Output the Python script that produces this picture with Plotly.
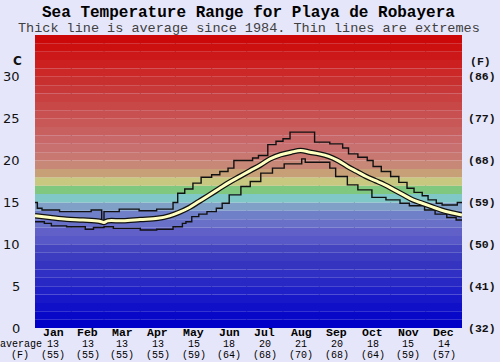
import plotly.graph_objects as go

# ---------------- data ----------------
months = ["Jan", "Feb", "Mar", "Apr", "May", "Jun", "Jul", "Aug", "Sep", "Oct", "Nov", "Dec"]
month_avg_c = ["13", "13", "13", "13", "15", "18", "20", "21", "20", "18", "15", "14"]
month_avg_f = ["(55)", "(55)", "(55)", "(55)", "(59)", "(64)", "(68)", "(70)", "(68)", "(64)", "(59)", "(57)"]
month_days = [31, 28, 31, 30, 31, 30, 31, 31, 30, 31, 30, 31]

c_ticks = [0, 5, 10, 15, 20, 25, 30]
f_ticks = ["(32)", "(41)", "(50)", "(59)", "(68)", "(77)", "(86)"]

# average (day of year, deg C)
avg_day = [0, 13, 27, 41, 55, 59, 62, 75, 90, 105, 115, 123, 132, 140, 148, 157, 166, 175, 184,
           193, 201, 210, 219, 227, 235, 243, 251, 259, 267, 275, 283, 291, 299, 307, 315, 323,
           331, 339, 347, 355, 365]
avg_val = [13.4, 13.2, 13.0, 12.9, 12.75, 12.6, 12.8, 12.8, 12.95, 13.1, 13.4, 13.8, 14.4, 15.1,
           15.8, 16.6, 17.4, 18.1, 18.8, 19.5, 20.2, 20.7, 21.0, 21.2, 21.0, 20.8, 20.5, 20.0,
           19.3, 18.7, 18.1, 17.6, 17.1, 16.5, 15.9, 15.3, 14.9, 14.5, 14.1, 13.8, 13.5]

# maximum (step line)
max_day = [0, 2, 6, 21, 48, 57, 59, 72, 89, 104, 118, 122, 128, 135, 142, 151, 158, 165, 170,
           186, 191, 199, 206, 212, 218, 239, 245, 252, 263, 268, 276, 284, 289, 296, 304, 311,
           318, 324, 331, 336, 343, 348, 361, 365]
max_val = [15.0, 14.3, 14.1, 13.9, 14.1, 12.7, 13.9, 14.2, 14.0, 14.2, 15.0, 16.1, 16.6, 17.3,
           18.0, 18.3, 18.7, 19.1, 20.0, 20.3, 20.6, 21.9, 22.3, 22.6, 23.4, 22.2, 22.2, 22.0,
           21.5, 20.8, 20.4, 20.0, 19.3, 18.7, 18.1, 17.4, 16.7, 16.2, 15.8, 15.3, 14.9, 14.7,
           15.0, 15.0]

# minimum (step line)
min_day = [0, 8, 14, 27, 43, 50, 59, 67, 90, 104, 118, 126, 129, 134, 140, 147, 155, 160, 166,
           176, 184, 193, 203, 213, 228, 231, 252, 257, 267, 276, 288, 300, 312, 320, 333, 342,
           352, 360, 365]
min_val = [12.7, 12.5, 12.2, 12.1, 11.8, 12.0, 12.1, 11.9, 11.7, 11.8, 12.1, 12.5, 12.7, 13.3,
           13.6, 13.9, 14.3, 14.9, 15.9, 16.9, 17.5, 18.5, 19.1, 19.6, 20.2, 19.8, 19.1, 18.1,
           17.1, 16.5, 15.6, 15.3, 14.9, 14.6, 14.1, 13.6, 13.2, 12.9, 12.9]

# ---------------- style ----------------
band_colors = [
    "#0000c8", "#0808c8", "#1010c8", "#1818c8", "#2020c8", "#2828c4", "#3030c4", "#3434c0",
    "#3c3cc0", "#4444c0", "#5858c8", "#6060c8", "#6870c8", "#7080c8", "#80a0c8", "#80c8c8",
    "#80c880", "#c8c880", "#c8a078", "#c88878", "#c87870", "#c87070", "#c86868", "#c86060",
    "#c85858", "#c85050", "#c84848", "#c84040", "#c83838", "#c83030", "#cc2828", "#cc2020",
    "#cc1818", "#cc1010", "#cc0808", "#cc0000",
]
MONO = "Liberation Mono"
BG = "#e6e6fa"

fig = go.Figure()

# thin extremes
fig.add_trace(go.Scatter(x=max_day, y=max_val, mode="lines", line=dict(color="#111111", width=1.4, shape="hv"),
                         hoverinfo="skip", showlegend=False))
fig.add_trace(go.Scatter(x=min_day, y=min_val, mode="lines", line=dict(color="#111111", width=1.4, shape="hv"),
                         hoverinfo="skip", showlegend=False))
# thick average: black outline + pale yellow core
fig.add_trace(go.Scatter(x=avg_day, y=avg_val, mode="lines", line=dict(color="#111111", width=5.5, shape="spline"),
                         hoverinfo="skip", showlegend=False))
fig.add_trace(go.Scatter(x=avg_day, y=avg_val, mode="lines", line=dict(color="#ffffc0", width=3, shape="spline"),
                         hoverinfo="skip", showlegend=False))

shapes = []
for i, col in enumerate(band_colors):
    shapes.append(dict(type="rect", xref="x", yref="y", x0=0, x1=365, y0=i, y1=i + 1,
                       fillcolor=col, line=dict(width=0), layer="below"))
# white horizontal lines
for v in c_ticks[1:]:
    shapes.append(dict(type="line", xref="paper", yref="y", x0=0, x1=1, y0=v, y1=v,
                       line=dict(color="#f4f4f4", width=2), layer="below"))
# month boundaries
edges = []
acc = 0
for d in month_days[:-1]:
    acc += d
    edges.append(acc)
for e in edges:
    shapes.append(dict(type="line", xref="x", yref="paper", x0=e, x1=e, y0=0, y1=1,
                       line=dict(color="#707070", width=1), layer="below"))

annotations = []
annotations.append(dict(text="<b>Sea Temperature Range for Playa de Robayera</b>", xref="paper", yref="paper",
                        x=0.5, y=1.075, xanchor="center", yanchor="middle", showarrow=False,
                        font=dict(family=MONO, size=16, color="#000000")))
annotations.append(dict(text="Thick line is average since 1984. Thin lines are extremes", xref="paper",
                        yref="paper", x=0.5, y=1.021, xanchor="center", yanchor="middle", showarrow=False,
                        font=dict(family=MONO, size=13.5, color="#404040")))
# left C labels
for v in c_ticks:
    annotations.append(dict(text=str(v), xref="paper", yref="y", x=-0.031, y=v, xanchor="right",
                            yanchor="middle", showarrow=False,
                            font=dict(family="DejaVu Sans", size=13, color="#111111")))
annotations.append(dict(text="<b>C</b>", xref="paper", yref="paper", x=-0.04, y=0.911, xanchor="center",
                        yanchor="middle", showarrow=False, font=dict(family="DejaVu Sans", size=12, color="#111111")))
# right F labels
for v, t in zip(c_ticks, f_ticks):
    annotations.append(dict(text="<b>" + t + "</b>", xref="paper", yref="y", x=1.009, y=v, xanchor="left",
                            yanchor="middle", showarrow=False, font=dict(family=MONO, size=11.5, color="#111111")))
annotations.append(dict(text="<b>(F)</b>", xref="paper", yref="paper", x=1.044, y=0.908, xanchor="center",
                        yanchor="middle", showarrow=False, font=dict(family=MONO, size=11.5, color="#111111")))
# bottom month labels
start = 0
for m, d, c, f in zip(months, month_days, month_avg_c, month_avg_f):
    mid = start + d / 2
    start += d
    annotations.append(dict(text="<b>" + m + "</b>", xref="x", yref="paper", x=mid, y=-0.0165, xanchor="center",
                            yanchor="middle", showarrow=False, borderpad=0,
                            font=dict(family=MONO, size=11.5, color="#000000")))
    annotations.append(dict(text=c, xref="x", yref="paper", x=mid, y=-0.0563, xanchor="center",
                            yanchor="middle", showarrow=False, borderpad=0,
                            font=dict(family=MONO, size=10, color="#000000")))
    annotations.append(dict(text=f, xref="x", yref="paper", x=mid, y=-0.0925, xanchor="center",
                            yanchor="middle", showarrow=False, borderpad=0,
                            font=dict(family=MONO, size=10, color="#000000")))
annotations.append(dict(text="average", xref="paper", yref="paper", x=-0.033, y=-0.0563, xanchor="center",
                        yanchor="middle", showarrow=False, borderpad=0,
                        font=dict(family=MONO, size=10, color="#000000")))
annotations.append(dict(text="(F)", xref="paper", yref="paper", x=-0.035, y=-0.0925, xanchor="center",
                        yanchor="middle", showarrow=False, borderpad=0,
                        font=dict(family=MONO, size=10, color="#000000")))

fig.update_layout(
    width=500, height=362,
    margin=dict(l=35, r=38, t=35, b=34, pad=0),
    paper_bgcolor=BG, plot_bgcolor=BG,
    showlegend=False,
    shapes=shapes,
    annotations=annotations,
    xaxis=dict(range=[0, 365], showgrid=False, zeroline=False, showticklabels=False, ticks="",
               fixedrange=True),
    yaxis=dict(range=[0, 35], showgrid=False, zeroline=False, showticklabels=False, ticks="",
               fixedrange=True),
)

fig.write_html(
    "out.html",
    config={"displayModeBar": False},
    post_script="document.body.style.margin='0';document.body.style.padding='0';"
                "document.body.style.overflow='hidden';",
)
